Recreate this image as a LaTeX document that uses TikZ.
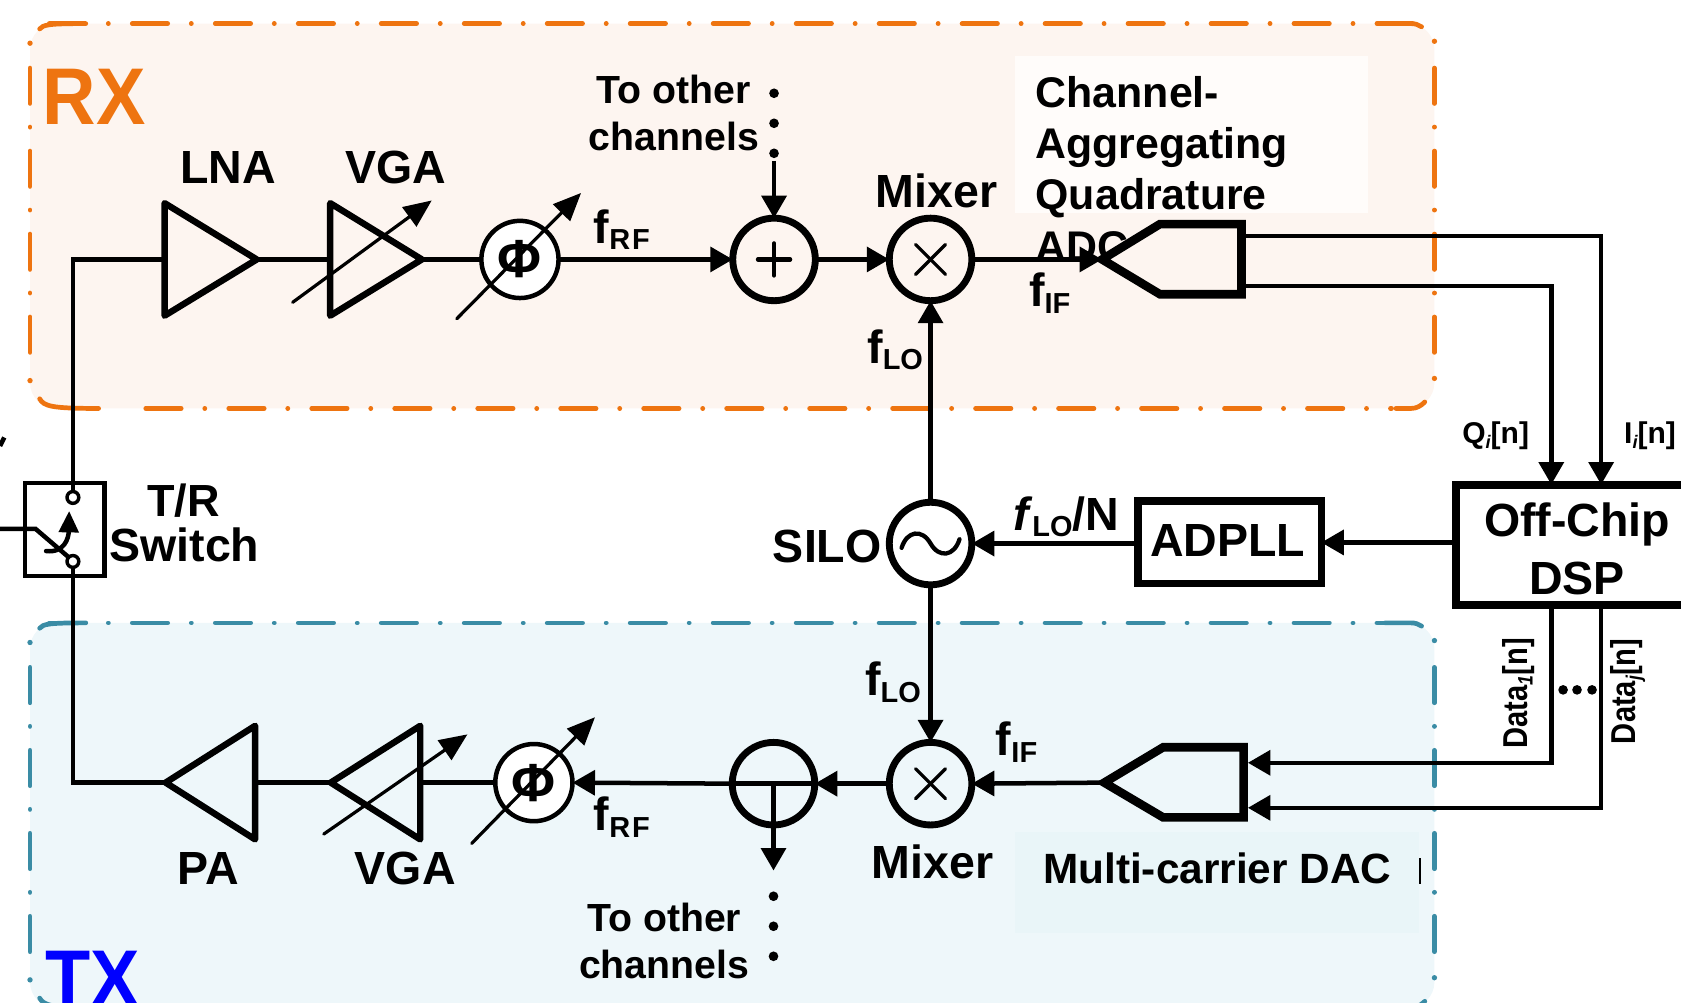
\documentclass[tikz,border=0pt]{standalone}
\usepackage{fontspec}
\setmainfont{Liberation Sans}
\usetikzlibrary{arrows.meta}
\definecolor{rxfill}{HTML}{FDF5F0}
\definecolor{rxline}{HTML}{EE7410}
\definecolor{txfill}{HTML}{EEF7FA}
\definecolor{txline}{HTML}{3A8CA5}
\definecolor{txpatch}{HTML}{E9F5F8}
\definecolor{rxpatch}{HTML}{FFFCFA}
\newcommand\fz[1]{\fontsize{#1}{#1}\selectfont\bfseries}
\newcommand\lowsub[1]{\raisebox{-3pt}{\fontsize{13.5}{13.5}\selectfont #1}}
\newcommand\isub[1]{\raisebox{-2pt}{\fontsize{8.5}{8.5}\selectfont\itshape #1}}
\tikzset{
  conn/.style={line width=2.1pt,line join=miter},
  tip/.style={-{Triangle[length=10.5pt,width=11.5pt]}},
  tune/.style={line width=1.5pt,line cap=round,-{Triangle[length=13pt,width=11pt]}},
  amp/.style={line width=3pt,line join=round},
  conv/.style={line width=4pt,line join=miter,fill=#1},
  bigring/.style={draw,circle,line width=3.2pt,minimum size=38.5pt,inner sep=0pt,outer sep=0pt},
  phase/.style={draw,circle,line width=2.1pt,minimum size=36pt,inner sep=0pt,outer sep=0pt,fill=white,font=\fz{25}},
  sym/.style={line width=1.5pt,line cap=round},
  lab/.style={anchor=base west,inner sep=0pt,outer sep=0pt,font=\fz{21.7}},
  lab2/.style={anchor=base west,inner sep=0pt,outer sep=0pt,font=\fz{20}},
  small/.style={anchor=base west,inner sep=0pt,outer sep=0pt,font=\fz{18.3}},
  tiny/.style={anchor=base west,inner sep=0pt,outer sep=0pt,font=\fz{14}},
  dotm/.style={circle,fill=black,minimum size=4.5pt,inner sep=0pt,outer sep=0pt},
  pin/.style={draw,circle,line width=1.6pt,minimum size=5.5pt,inner sep=0pt,outer sep=0pt,fill=white},
  hdash/.style={line width=2.2pt,line cap=round,dash pattern=on 16.5pt off 11pt on 0.05pt off 11.15pt},
}
\newcommand\chanbox[2]{%
  \fill[#1,rounded corners=12pt] (28,22) rectangle (1338,381);
  \draw[#2,hdash] (46,22) -- (1318,22);
  \draw[#2,hdash] (136,381) -- (1298,381);
  \draw[#2,hdash] (28,63.5) -- (28,350);
  \draw[#2,hdash] (1338,63.5) -- (1338,350);
  \fill[#2] (28,40.3) circle (2.5) (28,355) circle (2.5) (1338,38.5) circle (2.5) (1338,353) circle (2.5);
  \draw[#2,line width=2.2pt,line cap=round] (37,27) .. controls (40,23) and (46,22) .. (80,22);
  \draw[#2,line width=2.2pt,line cap=round] (1292,22) -- (1316,22) .. controls (1320,22) and (1323,23) .. (1326,25);
  \draw[#2,line width=2.2pt,line cap=round] (37,372) .. controls (41,379) and (48,381) .. (92,381);
  \draw[#2,line width=2.2pt,line cap=round] (1302,381) -- (1316,381) .. controls (1321,381) and (1325,379) .. (1329,375);
}
\begin{document}
\begin{tikzpicture}[x=0.5pt,y=-0.5pt]
\useasboundingbox (0,0) rectangle (1568,935);
\clip (0,0) rectangle (1568,935);
% group backgrounds
\chanbox{rxfill}{rxline}
\begin{scope}[shift={(0,559)}]
\chanbox{txfill}{txline}
\end{scope}
\fill[rxpatch] (947,52) rectangle (1276,199);
\fill[txpatch] (947,776) rectangle (1324,870);
\fill[black] (1323.5,800) rectangle (1325.5,825);

% text under the converters
\node[lab2] (tCh) at (966,100) {Channel-};
\node[lab2] (tAg) at (966,148) {Aggregating};
\node[lab2] (tQu) at (966,195) {Quadrature};
\node[lab2] (tAd) at (966,244) {ADC};
\node[lab,font=\fz{37.5},text=rxline] (tRX) at (40,116) {\scalebox{.92}[1]{RX}};
\node[lab,font=\fz{37.5},text=blue] (tTX) at (42,939) {\scalebox{.92}[1]{TX}};

% rings
\node[bigring] (sumRX) at (722,242) {};
\node[bigring] (mixRX) at (868,242) {};
\node[bigring] (silo) at (868,507) {};
\node[bigring] (mixTX) at (868,731) {};
\node[bigring] (sumTX) at (721.5,731) {};
\node[phase] (phRX) at (485,242) {Φ};
\node[phase] (phTX) at (498,730) {Φ};
\draw[sym,line width=2pt] ([shift={(-15,0)}]sumRX.center) -- ([shift={(15,0)}]sumRX.center);
\draw[sym,line width=2pt] ([shift={(0,-15)}]sumRX.center) -- ([shift={(0,15)}]sumRX.center);
\draw[sym] ([shift={(-14,-14)}]mixRX.center) -- ([shift={(14,14)}]mixRX.center);
\draw[sym] ([shift={(14,-14)}]mixRX.center) -- ([shift={(-14,14)}]mixRX.center);
\draw[sym] ([shift={(-14,-14)}]mixTX.center) -- ([shift={(14,14)}]mixTX.center);
\draw[sym] ([shift={(14,-14)}]mixTX.center) -- ([shift={(-14,14)}]mixTX.center);
\draw[sym,line width=2pt] ([shift={(-27,4)}]silo.center) .. controls ([shift={(-22,-12)}]silo.center) and ([shift={(-8,-14)}]silo.center) .. (silo.center) .. controls ([shift={(8,14)}]silo.center) and ([shift={(22,12)}]silo.center) .. ([shift={(27,-4)}]silo.center);

% boxes
\node[draw,line width=3.5pt,minimum width=85.5pt,minimum height=38.5pt,inner sep=0pt,outer sep=0pt] (adpll) at (1147,506) {};
\node[draw,line width=3.7pt,minimum width=115pt,minimum height=56pt,inner sep=0pt,outer sep=0pt] (dsp) at (1473,508.5) {};
\node[draw,line width=2pt,minimum width=37pt,minimum height=43.25pt,inner sep=0pt,outer sep=0pt] (sw) at (60.5,493.7) {};
\node[pin] (swHi) at (68,464) {};
\node[pin] (swLo) at (68,523.7) {};

% amplifiers
\draw[amp] (153.5,189.5) -- (239.5,242) -- (153.5,294.5) -- cycle;
\draw[amp] (308,189.5) -- (393.5,242) -- (308,294.5) -- cycle;
\draw[amp] (238,677) -- (154.5,730) -- (238,783) -- cycle;
\draw[amp] (392,677) -- (308.5,730) -- (392,783) -- cycle;
\coordinate (lnaIn) at (153.5,242);
\coordinate (lnaOut) at (240,242);
\coordinate (vgaIn) at (308,242);
\coordinate (vgaOut) at (394,242);
\coordinate (paOut) at (154,730);
\coordinate (paIn) at (238,730);
\coordinate (tvgaOut) at (308,730);
\coordinate (tvgaIn) at (395,730);

% converters
\coordinate (adcTip) at (1028,242);
\coordinate (dacTip) at (1030,730);
\draw[conv=rxfill] (adcTip) -- (1082,209) -- (1158,209) -- (1158,274.5) -- (1082,274.5) -- cycle;
\draw[conv=txfill] (dacTip) -- (1085,697) -- (1160,697) -- (1160,762.5) -- (1085,762.5) -- cycle;
\coordinate (adcI) at (1161,220);
\coordinate (adcQ) at (1161,267);
\coordinate (dacA) at (1164,711.5);
\coordinate (dacB) at (1164,753.5);
\coordinate (dspQ) at (1447,452);
\coordinate (dspI) at (1493.5,452);
\coordinate (dspA) at (1447,565);
\coordinate (dspB) at (1493.5,565);

% connectors
\draw[conn] (lnaIn) -| (swHi.north);
\draw[conn] (paOut) -| (swLo.south);
\draw[conn] (lnaOut) -- (vgaIn);
\draw[conn] (vgaOut) -- (phRX.west);
\draw[conn,tip] (phRX.east) -- (sumRX.west);
\draw[conn,tip] (sumRX.east) -- (mixRX.west);
\draw[conn,tip] (mixRX.east) -- (adcTip);
\draw[conn,tip] (silo.north) -- (mixRX.south);
\draw[conn,tip] (silo.south) -- (mixTX.north);
\draw[conn,tip] (adpll.west |- silo.east) -- (silo.east);
\draw[conn,tip] (dsp.west |- adpll.east) -- (adpll.east);
\draw[conn,tip] (adcI) -| (dspI);
\draw[conn,tip] (adcQ) -| (dspQ);
\draw[conn,tip] (dspA) |- (dacA);
\draw[conn,tip] (dspB) |- (dacB);
\draw[conn,tip] (dacTip) -- (mixTX.east);
\draw[conn,tip] (mixTX.west) -- (sumTX.east);
\draw[conn] (sumTX.east) -- (sumTX.west);
\draw[conn,tip] (sumTX.west) -- (phTX.east);
\draw[conn] (phTX.west) -- (tvgaIn);
\draw[conn] (paIn) -- (tvgaOut);
\coordinate (sumDown) at (721.5,812);
\draw[conn,tip] (sumTX.center) -- (sumDown);
\node[dotm] (dr1) at (722,87) {};
\node[dotm] (dr2) at (722,115) {};
\node[dotm] (dr3) at (722,143) {};
\coordinate (drEnd) at (722,150);
\draw[conn,tip] (drEnd) -- (sumRX.north);
\node[dotm] (dt1) at (721.5,836) {};
\node[dotm] (dt2) at (721.5,864) {};
\node[dotm] (dt3) at (721.5,892) {};
\node[dotm] (dd1) at (1458,643.5) {};
\node[dotm] (dd2) at (1471,643.5) {};
\node[dotm] (dd3) at (1485,643.5) {};

% tuning arrows
\coordinate (a1s) at (273,282); \coordinate (a1e) at (402.7,187);
\coordinate (a2s) at (426,297.4); \coordinate (a2e) at (542,180);
\coordinate (a3s) at (302,778); \coordinate (a3e) at (436,685);
\coordinate (a4s) at (440,786.7); \coordinate (a4e) at (555,669);
\draw[tune] (a1s) -- (a1e);
\draw[tune] (a2s) -- (a2e);
\draw[tune] (a3s) -- (a3e);
\draw[tune] (a4s) -- (a4e);

% switch
\coordinate (antIn) at (0,493.4);
\coordinate (swKnee) at (33.3,493.4);
\draw[conn] (antIn) -- (swKnee) -- (swLo.north west);
\coordinate (swArcS) at (43,514);
\coordinate (swArcE) at (64.5,476.6);
\draw[conn,line cap=round,-{Triangle[length=10pt,width=9pt]}] (swArcS) .. controls (60,516) and (64,502) .. (swArcE);
\coordinate (antA) at (0,416);
\coordinate (antB) at (4,408);
\draw[conn] (antA) -- (antB);

% labels
\node[lab] (tLNA) at (168,171) {LNA};
\node[lab] (tVGA) at (322.5,171) {VGA};
\node[lab] (tVGAt) at (331,825.5) {VGA};
\node[lab] (tPA) at (166,825.5) {PA};
\node[lab] (tMixR) at (817,194) {Mixer};
\node[lab] (tMixT) at (813,819) {Mixer};
\node[lab] (tSILO) at (721,525) {SILO};
\node[lab,font=\fz{21.7}] (tADPLL) at (1073,519.5) {ADPLL};
\node[lab,anchor=base] (tOff) at (1471,500) {Off-Chip};
\node[lab,anchor=base] (tDSP) at (1471,555) {DSP};
\node[lab,anchor=base,font=\fz{21}] (tTR) at (171,482) {T/R};
\node[lab] (tSw) at (102,524) {Switch};
\node[small,anchor=base] (tOa) at (628.5,97) {To other};
\node[small,anchor=base] (tOb) at (628.5,140) {channels};
\node[small,anchor=base] (tOc) at (619.5,869) {To other};
\node[small,anchor=base] (tOd) at (619.5,913) {channels};
\node[lab2,font=\fz{19.75}] (tDAC) at (973,824) {Multi-carrier DAC};
\node[lab] (fRFa) at (554,227) {f\lowsub{R\kern.8pt F}};
\node[lab] (fRFb) at (554,775) {f\lowsub{R\kern.8pt F}};
\node[lab] (fIFa) at (960,286) {f\lowsub{IF}};
\node[lab] (fIFb) at (929,705) {f\lowsub{IF}};
\node[lab] (fLOa) at (809,339) {f\lowsub{LO}};
\node[lab] (fLOb) at (807,649) {f\lowsub{LO}};
\node[lab] (fLON) at (945,494.5) {\textit{f}\lowsub{LO}/N};
\node[tiny] (tQ) at (1364,414) {Q\isub{i}[n]};
\node[tiny] (tI) at (1515,414) {I\isub{i}[n]};
\node[tiny,rotate=90] (tD1) at (1425,698) {\scalebox{.97}[1.15]{Data\isub{1}[n]}};
\node[tiny,rotate=90] (tDj) at (1526,694) {\scalebox{.97}[1.15]{Data\isub{j}[n]}};
\end{tikzpicture}
\end{document}
